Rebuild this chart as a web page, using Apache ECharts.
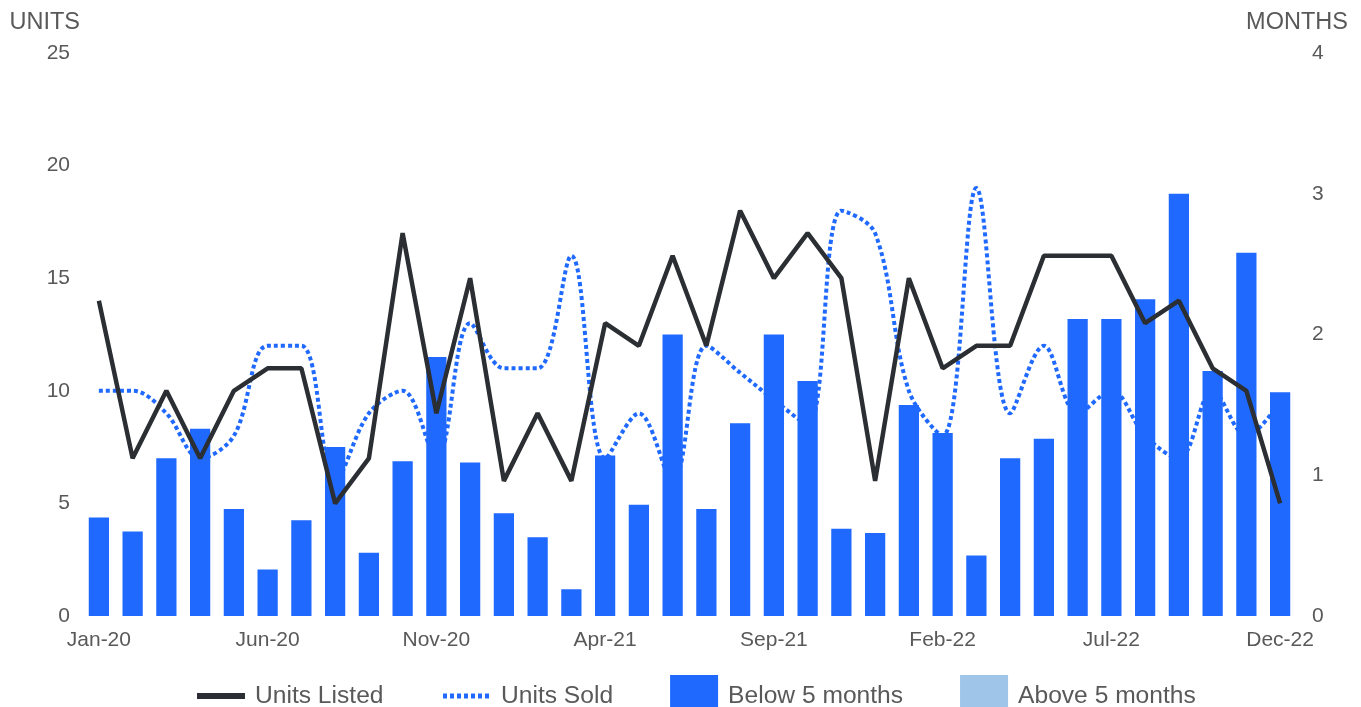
<!DOCTYPE html>
<html>
<head>
<meta charset="utf-8">
<script src="https://cdn.jsdelivr.net/npm/echarts@6/dist/echarts.min.js"></script>
<style>
html,body{margin:0;padding:0;background:#fff;}
#chart{width:1361px;height:707px;}
</style>
</head>
<body>
<div id="chart"></div>
<script>
const months = ['Jan-20','Feb-20','Mar-20','Apr-20','May-20','Jun-20','Jul-20','Aug-20','Sep-20','Oct-20','Nov-20','Dec-20',
  'Jan-21','Feb-21','Mar-21','Apr-21','May-21','Jun-21','Jul-21','Aug-21','Sep-21','Oct-21','Nov-21','Dec-21',
  'Jan-22','Feb-22','Mar-22','Apr-22','May-22','Jun-22','Jul-22','Aug-22','Sep-22','Oct-22','Nov-22','Dec-22'];
const unitsListed = [14,7,10,7,10,11,11,5,7,17,9,15, 6,9,6,13,12,16,12,18,15,17,15,6, 15,11,12,12,16,16,16,13,14,11,10,5];
const unitsSold = [10,10,9,7,8,12,12,6,9,10,7,13, 11,11,16,7,9,6,12,10.8,9.6,8.5,18,17, 10,8,19,9,12,9,10,8,7,10,8,9.5];
const belowFive = [0.70,0.60,1.12,1.33,0.76,0.33,0.68,1.20,0.45,1.10,1.84,1.09, 0.73,0.56,0.19,1.14,0.79,2.00,0.76,1.37,2.00,1.67,0.62,0.59, 1.50,1.30,0.43,1.12,1.26,2.11,2.11,2.25,3.00,1.74,2.58,1.59];
const aboveFive = months.map(() => null);
const leftTicks = {min:0, max:25, interval:5};
const rightTicks = {min:0, max:4, interval:1};

const txt = '#595959';
const font = '"Liberation Sans", Arial, sans-serif';
const hideSym = {color:'rgba(0,0,0,0)', borderColor:'rgba(0,0,0,0)', borderWidth:0, opacity:0};
const chart = echarts.init(document.getElementById('chart'), null, {renderer:'canvas'});
chart.setOption({
  animation:false,
  backgroundColor:'#fff',
  textStyle:{fontFamily:font},
  grid:{left:82,right:64,top:53,bottom:91,containLabel:false},
  legend:{
    left:189, top:670, itemWidth:48, itemHeight:42, itemGap:57,
    textStyle:{fontSize:24.6,color:txt,fontFamily:font,padding:[0,0,0,5]},
    data:[
      {name:'Units Listed', itemStyle:hideSym, lineStyle:{color:'#2b2f33', width:6}},
      {name:'Units Sold', itemStyle:hideSym, lineStyle:{color:'#1f69ff', width:5, type:[4,3]}},
      {name:'Below 5 months', icon:'rect'},
      {name:'Above 5 months', icon:'rect'}
    ]
  },
  xAxis:{
    type:'category', data:months, boundaryGap:true,
    axisLine:{show:false}, axisTick:{show:false}, splitLine:{show:false},
    axisLabel:{interval:4, color:txt, fontSize:21, margin:14, fontFamily:font}
  },
  yAxis:[
    {type:'value', min:leftTicks.min, max:leftTicks.max, interval:leftTicks.interval,
     name:'UNITS', nameLocation:'end', nameGap:18,
     nameTextStyle:{color:txt, fontSize:23.5, align:'right', padding:[0,2,0,0], fontFamily:font},
     axisLine:{show:false}, axisTick:{show:false}, splitLine:{show:false},
     axisLabel:{color:txt, fontSize:21, margin:12, fontFamily:font}},
    {type:'value', min:rightTicks.min, max:rightTicks.max, interval:rightTicks.interval,
     name:'MONTHS', nameLocation:'end', nameGap:18,
     nameTextStyle:{color:txt, fontSize:23.5, fontFamily:font},
     axisLine:{show:false}, axisTick:{show:false}, splitLine:{show:false},
     axisLabel:{color:txt, fontSize:21, margin:15, fontFamily:font}}
  ],
  series:[
    {name:'Units Listed', type:'line', yAxisIndex:0, data:unitsListed, z:4,
     symbol:'none', color:'#2b2f33',
     lineStyle:{color:'#2b2f33', width:4.5}},
    {name:'Units Sold', type:'line', yAxisIndex:0, data:unitsSold, z:1,
     symbol:'none', smooth:0.35, color:'#1f69ff',
     lineStyle:{color:'#1f69ff', width:4, type:[4,3]}},
    {name:'Below 5 months', type:'bar', yAxisIndex:1, data:belowFive, stack:'m', z:2,
     barWidth:'60%', itemStyle:{color:'#1f69ff'}},
    {name:'Above 5 months', type:'bar', yAxisIndex:1, data:aboveFive, stack:'m', z:2,
     barWidth:'60%', itemStyle:{color:'#9fc5e8'}}
  ]
});
</script>
</body>
</html>
